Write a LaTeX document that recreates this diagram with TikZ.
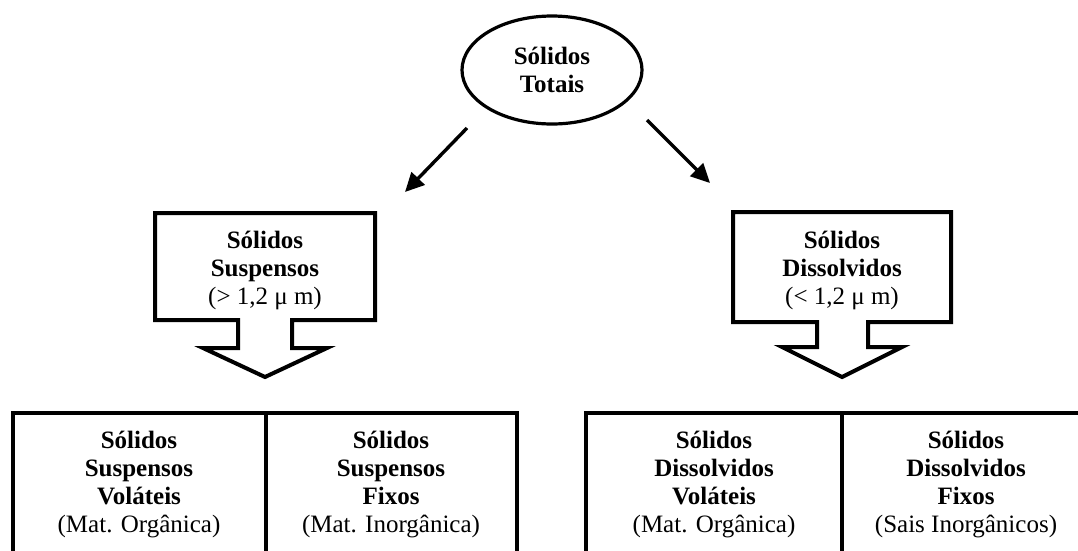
\documentclass[tikz,border=0pt]{standalone}
\usepackage{fontspec}
\setmainfont{Liberation Serif}
\usetikzlibrary{arrows.meta,shapes.geometric}
\begin{document}
\begin{tikzpicture}[x=1pt,y=-1pt,
  lbl/.style={align=center,font=\fontsize{25}{28}\selectfont,inner sep=0pt},
  frame/.style={draw=black,line width=4pt,line join=miter},
  arr/.style={-{Triangle[length=19pt,width=18pt]},line width=3.4pt}]
\useasboundingbox (0,0) rectangle (1078,550);
\clip (0,0) rectangle (1078,550);
% root ellipse
\node[draw,ellipse,line width=3.2pt,minimum width=180pt,minimum height=108pt,lbl] (root) at (552,70) {\textbf{Sólidos}\\\textbf{Totais}};
% upper boxes with block arrows
\draw[frame] (155,213) -- (375,213) -- (375,320) -- (292,320) -- (292,348) -- (327,348) -- (265,377) -- (203,348) -- (238,348) -- (238,320) -- (155,320) -- cycle;
\node[lbl] (ss) at (265,270) {\textbf{Sólidos}\\\textbf{Suspensos}\\(> 1,2 μ m)};
\draw[frame] (733,212) -- (951,212) -- (951,322) -- (868,322) -- (868,347) -- (902,347) -- (842,377) -- (782,347) -- (817,347) -- (817,322) -- (733,322) -- cycle;
\node[lbl] (sd) at (842,270) {\textbf{Sólidos}\\\textbf{Dissolvidos}\\(< 1,2 μ m)};
% arrows
\coordinate (l1) at (467,128);
\coordinate (l2) at (405,192);
\coordinate (r1) at (647,120);
\coordinate (r2) at (710,183);
\draw[arr] (l1) -- (l2);
\draw[arr] (r1) -- (r2);
% bottom boxes
\draw[frame] (13,413) rectangle (517,570);
\draw[frame] (266,413) -- (266,570);
\draw[frame] (586,413) rectangle (1092,570);
\draw[frame] (842,413) -- (842,570);
\node[lbl] (ssv) at (139,484) {\textbf{Sólidos}\\\textbf{Suspensos}\\\textbf{Voláteis}\\(Mat. Orgânica)};
\node[lbl] (ssf) at (391,484) {\textbf{Sólidos}\\\textbf{Suspensos}\\\textbf{Fixos}\\(Mat. Inorgânica)};
\node[lbl] (sdv) at (714,484) {\textbf{Sólidos}\\\textbf{Dissolvidos}\\\textbf{Voláteis}\\(Mat. Orgânica)};
\node[lbl] (sdf) at (966,484) {\textbf{Sólidos}\\\textbf{Dissolvidos}\\\textbf{Fixos}\\(Sais Inorgânicos)};
\end{tikzpicture}
\end{document}
